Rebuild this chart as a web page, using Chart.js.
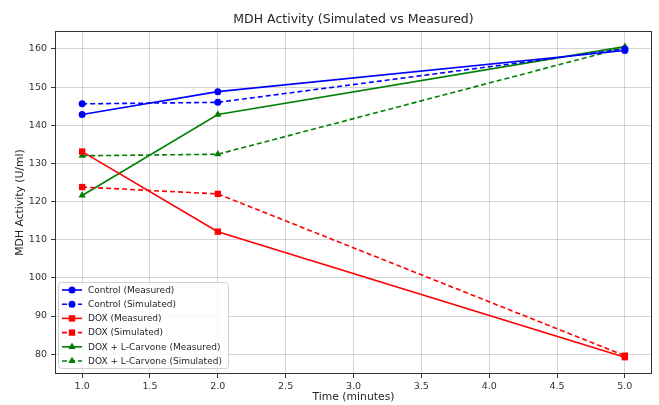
<!DOCTYPE html>
<html>

<head>
    <title>MDH Activity (Simulated vs Measured)</title>
    <script src="https://cdn.jsdelivr.net/npm/chart.js"></script>
    <style>
        body {
            margin: 0;
            background: #ffffff;
        }
    </style>
</head>

<body>
    <canvas id="mdhChart" width="659" height="405"></canvas>

    <script>
        // Values
        const timePoints = [1.0, 2.0, 5.0];
        const controlMeasured = [142.8, 148.8, 159.6];
        const controlSimulated = [145.6, 146.0, 160.0];
        const doxMeasured = [133.1, 112.1, 79.2];
        const doxSimulated = [123.8, 122.0, 79.6];
        const carvoneMeasured = [121.6, 142.8, 160.6];
        const carvoneSimulated = [132.0, 132.4, 160.4];

        const xTickValues = [1.0, 1.5, 2.0, 2.5, 3.0, 3.5, 4.0, 4.5, 5.0];
        const yTickValues = [80, 90, 100, 110, 120, 130, 140, 150, 160];

        const fontFamily = '"DejaVu Sans", sans-serif';

        const markerSize = { circle: 3.5, rect: 4.5, triangle: 4.2 };

        function makeSeries(label, values, color, pointStyle, dashed) {
            return {
                label: label,
                data: timePoints.map((t, i) => ({ x: t, y: values[i] })),
                borderColor: color,
                backgroundColor: color,
                borderWidth: 1.6,
                borderDash: dashed ? [5, 3] : [],
                pointStyle: pointStyle,
                pointRadius: markerSize[pointStyle],
                pointBorderWidth: 0,
                tension: 0,
                fill: false
            };
        }

        const datasets = [
            makeSeries('Control (Measured)', controlMeasured, '#0000ff', 'circle', false),
            makeSeries('Control (Simulated)', controlSimulated, '#0000ff', 'circle', true),
            makeSeries('DOX (Measured)', doxMeasured, '#ff0000', 'rect', false),
            makeSeries('DOX (Simulated)', doxSimulated, '#ff0000', 'rect', true),
            makeSeries('DOX + L-Carvone (Measured)', carvoneMeasured, '#008000', 'triangle', false),
            makeSeries('DOX + L-Carvone (Simulated)', carvoneSimulated, '#008000', 'triangle', true)
        ];

        // full box around the plot, like matplotlib spines
        const frame = {
            id: 'frame',
            afterDatasetsDraw(chart) {
                const { ctx, chartArea: a } = chart;
                ctx.save();
                ctx.strokeStyle = '#333333';
                ctx.lineWidth = 1;
                ctx.strokeRect(a.left + 0.5, a.top + 0.5, a.right - a.left - 1, a.bottom - a.top - 1);
                ctx.restore();
            }
        };

        // legend box in the lower left corner of the plot
        const cornerLegend = {
            id: 'cornerLegend',
            afterDraw(chart) {
                const { ctx, chartArea: a } = chart;
                const x = a.left + 3, y = a.bottom - 92, w = 170, h = 86, row = 14.2;
                ctx.save();
                ctx.fillStyle = 'rgba(255,255,255,0.85)';
                ctx.strokeStyle = '#d0d0d0';
                ctx.lineWidth = 1;
                ctx.beginPath();
                ctx.roundRect(x + 0.5, y + 0.5, w, h, 3);
                ctx.fill();
                ctx.stroke();

                ctx.font = '9px ' + fontFamily;
                ctx.textBaseline = 'middle';
                chart.data.datasets.forEach((ds, i) => {
                    const cy = y + 8 + i * row;
                    ctx.strokeStyle = ds.borderColor;
                    ctx.lineWidth = ds.borderWidth;
                    ctx.setLineDash(ds.borderDash);
                    ctx.beginPath();
                    ctx.moveTo(x + 4, cy);
                    ctx.lineTo(x + 24, cy);
                    ctx.stroke();
                    ctx.setLineDash([]);
                    ctx.fillStyle = ds.backgroundColor;
                    Chart.helpers.drawPoint(ctx, {
                        pointStyle: ds.pointStyle,
                        radius: ds.pointRadius,
                        rotation: 0,
                        borderWidth: 0
                    }, x + 14, cy);
                    ctx.fillStyle = '#262626';
                    ctx.fillText(ds.label, x + 30, cy + 0.5);
                });
                ctx.restore();
            }
        };

        const gridColor = 'rgba(176,176,176,0.55)';

        new Chart(document.getElementById('mdhChart'), {
            type: 'line',
            data: { datasets: datasets },
            plugins: [frame, cornerLegend],
            options: {
                responsive: false,
                animation: false,
                layout: { padding: { left: 0, right: 7, top: 0, bottom: 0 } },
                plugins: {
                    legend: { display: false },
                    tooltip: { enabled: false },
                    title: {
                        display: true,
                        fullSize: false,
                        text: 'MDH Activity (Simulated vs Measured)',
                        color: '#262626',
                        font: { family: fontFamily, size: 12.5, weight: 'normal' },
                        padding: { top: 12.5, bottom: 3.5 }
                    }
                },
                scales: {
                    x: {
                        type: 'linear',
                        min: 0.8,
                        max: 5.2,
                        afterBuildTicks: (scale) => {
                            scale.ticks = xTickValues.map(v => ({ value: v }));
                        },
                        afterFit: (scale) => { scale.height = 31; },
                        ticks: {
                            color: '#333333',
                            font: { family: fontFamily, size: 9.5 },
                            padding: 3,
                            maxRotation: 0,
                            callback: (v) => v.toFixed(1)
                        },
                        grid: { color: gridColor, tickColor: '#333333', tickLength: 4 },
                        border: { display: false },
                        title: {
                            display: true,
                            text: 'Time (minutes)',
                            color: '#262626',
                            font: { family: fontFamily, size: 10.8 },
                            padding: { top: 0, bottom: 1 }
                        }
                    },
                    y: {
                        min: 74.8,
                        max: 164.7,
                        afterBuildTicks: (scale) => {
                            scale.ticks = yTickValues.map(v => ({ value: v }));
                        },
                        afterFit: (scale) => { scale.width = 55; },
                        ticks: {
                            color: '#333333',
                            font: { family: fontFamily, size: 9.5 },
                            padding: 4
                        },
                        grid: { color: gridColor, tickColor: '#333333', tickLength: 4 },
                        border: { display: false },
                        title: {
                            display: true,
                            text: 'MDH Activity (U/ml)',
                            color: '#262626',
                            font: { family: fontFamily, size: 10.8 },
                            padding: { top: 14, bottom: 0 }
                        }
                    }
                }
            }
        });
    </script>
</body>

</html>
